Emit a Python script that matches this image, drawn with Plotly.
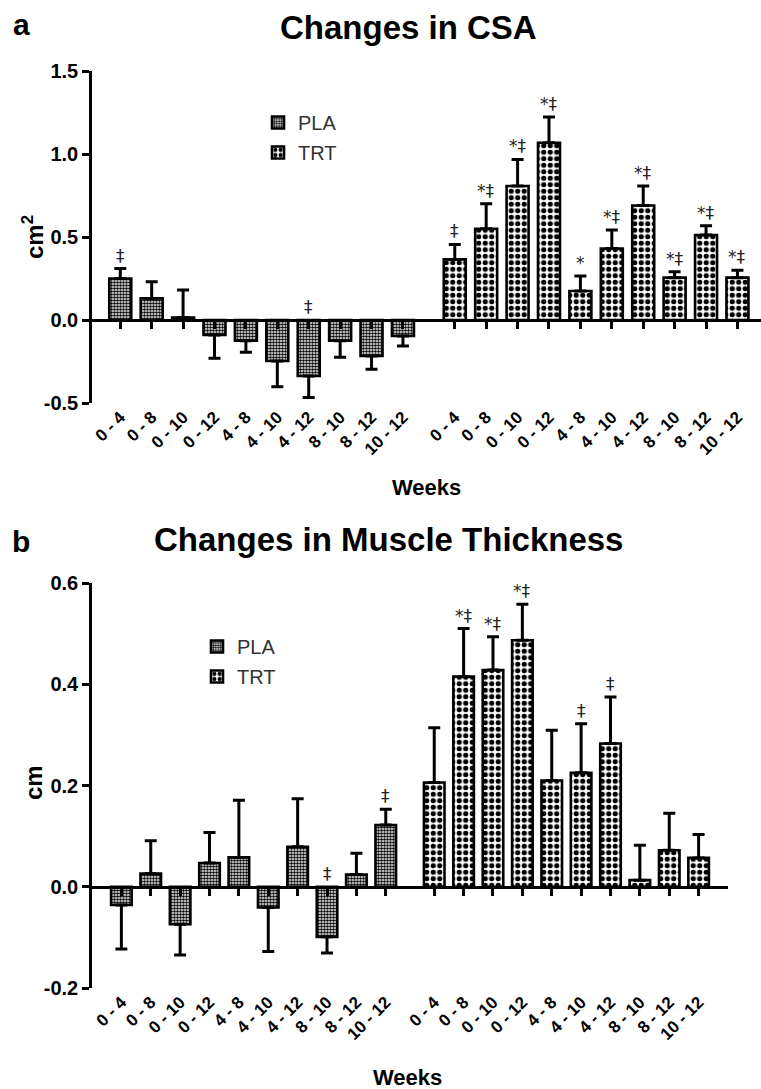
import plotly.graph_objects as go

W, H = 761, 1089

weeks = ["0 - 4", "0 - 8", "0 - 10", "0 - 12", "4 - 8", "4 - 10", "4 - 12", "8 - 10", "8 - 12", "10 - 12"]

# Panel a: Changes in CSA (cm^2)
csa_pla = [0.25, 0.13, 0.015, -0.09, -0.125, -0.247, -0.337, -0.125, -0.217, -0.096]
csa_pla_err = [0.06, 0.10, 0.165, 0.14, 0.07, 0.155, 0.13, 0.10, 0.08, 0.06]
csa_trt = [0.365, 0.55, 0.807, 1.068, 0.175, 0.43, 0.69, 0.255, 0.512, 0.255]
csa_trt_err = [0.09, 0.15, 0.16, 0.155, 0.09, 0.112, 0.117, 0.035, 0.056, 0.045]
csa_pla_sig = ["‡", "", "", "", "", "", "‡", "", "", ""]
csa_trt_sig = ["‡", "*‡", "*‡", "*‡", "*", "*‡", "*‡", "*‡", "*‡", "*‡"]

# Panel b: Changes in Muscle Thickness (cm)
mt_pla = [-0.036, 0.026, -0.074, 0.047, 0.058, -0.041, 0.079, -0.099, 0.024, 0.122]
mt_pla_err = [0.087, 0.065, 0.061, 0.060, 0.113, 0.087, 0.095, 0.032, 0.042, 0.031]
mt_trt = [0.206, 0.415, 0.428, 0.487, 0.21, 0.225, 0.283, 0.013, 0.072, 0.057]
mt_trt_err = [0.108, 0.095, 0.066, 0.071, 0.099, 0.097, 0.092, 0.069, 0.073, 0.046]
mt_pla_sig = ["", "", "", "", "", "", "", "‡", "", "‡"]
mt_trt_sig = ["", "*‡", "*‡", "*‡", "", "‡", "‡", "", "", ""]

GAP = 1.65
pla_x = [i for i in range(len(weeks))]
trt_x = [i + len(weeks) + GAP - 1 for i in range(len(weeks))]
all_x = pla_x + trt_x
all_lbl = weeks + weeks

FONT = "Liberation Sans, Arial, sans-serif"

pla_pattern = dict(shape=".", size=3.0, solidity=0.6, fgcolor="black", bgcolor="white", fillmode="replace")
trt_pattern = dict(shape=".", size=6.5, solidity=0.5, fgcolor="black", bgcolor="white", fillmode="replace")


def err_dict(vals, errs):
    up = [e if v >= 0 else 0 for v, e in zip(vals, errs)]
    dn = [e if v < 0 else 0 for v, e in zip(vals, errs)]
    return dict(type="data", symmetric=False, array=up, arrayminus=dn,
                color="black", thickness=3, width=6)


fig = go.Figure()

panels = [
    dict(pla=csa_pla, pe=csa_pla_err, trt=csa_trt, te=csa_trt_err, ps=csa_pla_sig, ts=csa_trt_sig,
         xa="x", ya="y", legend="legend"),
    dict(pla=mt_pla, pe=mt_pla_err, trt=mt_trt, te=mt_trt_err, ps=mt_pla_sig, ts=mt_trt_sig,
         xa="x3", ya="y2", legend="legend2"),
]

annotations = []
for p in panels:
    fig.add_trace(go.Bar(x=pla_x, y=p["pla"], name="PLA", width=0.7,
                         marker=dict(color="white", pattern=pla_pattern, line=dict(color="black", width=2.6)),
                         error_y=err_dict(p["pla"], p["pe"]), xaxis=p["xa"], yaxis=p["ya"],
                         legend=p["legend"], legendgroup="pla"))
    fig.add_trace(go.Bar(x=trt_x, y=p["trt"], name="TRT", width=0.7,
                         marker=dict(color="white", pattern=trt_pattern, line=dict(color="black", width=2.6)),
                         error_y=err_dict(p["trt"], p["te"]), xaxis=p["xa"], yaxis=p["ya"],
                         legend=p["legend"], legendgroup="trt"))
    for xs, vals, errs, sigs in [(pla_x, p["pla"], p["pe"], p["ps"]), (trt_x, p["trt"], p["te"], p["ts"])]:
        for xv, v, e, s in zip(xs, vals, errs, sigs):
            if not s:
                continue
            annotations.append(dict(x=xv, y=(v + e) if v >= 0 else 0, xref=p["xa"], yref=p["ya"],
                                    text=s, showarrow=False, xanchor="center", yanchor="bottom", yshift=1,
                                    font=dict(family="DejaVu Sans, sans-serif", size=17, color="#222")))


def px_x(v):
    return v / W


def px_y(v):
    return 1 - v / H


# geometry
top_dom_x = [92 / W, 1.0]
top_dom_y = [px_y(403), px_y(71)]
top_rng_y = [-0.5, 1.5]
top_rng_x = [-0.9, 20.4]
bot_dom_x = [92 / W, 728 / W]
bot_dom_y = [px_y(988), px_y(583)]
bot_rng_y = [-0.2, 0.6]
bot_rng_x = [-1.0, 20.65]


def zero_pos(dom, rng):
    return dom[0] + (0 - rng[0]) / (rng[1] - rng[0]) * (dom[1] - dom[0])


yax = dict(showline=True, linewidth=2.6, linecolor="black", ticks="outside", ticklen=7, tickwidth=2.6,
           tickcolor="black", showgrid=False, zeroline=False, automargin=False,
           tickfont=dict(family=FONT, size=20, color="black", weight="bold"))
xlab = dict(showline=False, ticks="", showgrid=False, zeroline=False, tickangle=-45, automargin=False,
            tickvals=all_x, ticktext=all_lbl, ticklen=4,
            tickfont=dict(family=FONT, size=17, color="black", weight="bold"))
xzero = dict(showline=True, linewidth=2.6, linecolor="black", ticks="outside", ticklen=7, tickwidth=2.6,
             tickcolor="black", showgrid=False, zeroline=False, tickvals=all_x, showticklabels=False,
             side="bottom", anchor="free", automargin=False)

fig.update_layout(
    width=W, height=H, margin=dict(l=0, r=0, t=0, b=0, autoexpand=False),
    paper_bgcolor="white", plot_bgcolor="white",
    barmode="overlay", showlegend=True,
    xaxis=dict(domain=top_dom_x, range=top_rng_x, anchor="y", **xlab),
    xaxis2=dict(domain=top_dom_x, range=top_rng_x, overlaying="x",
                position=zero_pos(top_dom_y, top_rng_y), **xzero),
    yaxis=dict(domain=top_dom_y, range=top_rng_y, tickvals=[-0.5, 0, 0.5, 1.0, 1.5],
               ticktext=["-0.5", "0.0", "0.5", "1.0", "1.5"], anchor="x", **yax),
    xaxis3=dict(domain=bot_dom_x, range=bot_rng_x, anchor="y2", **xlab),
    xaxis4=dict(domain=bot_dom_x, range=bot_rng_x, overlaying="x3",
                position=zero_pos(bot_dom_y, bot_rng_y), **xzero),
    yaxis2=dict(domain=bot_dom_y, range=bot_rng_y, tickvals=[-0.2, 0, 0.2, 0.4, 0.6],
                ticktext=["-0.2", "0.0", "0.2", "0.4", "0.6"], anchor="x3", **yax),
    legend=dict(x=px_x(258), y=px_y(103), xanchor="left", yanchor="top", bgcolor="rgba(0,0,0,0)",
                font=dict(family=FONT, size=20, color="#333"), tracegroupgap=1, traceorder="grouped"),
    legend2=dict(x=px_x(197), y=px_y(627), xanchor="left", yanchor="top", bgcolor="rgba(0,0,0,0)",
                 font=dict(family=FONT, size=20, color="#333"), tracegroupgap=1, traceorder="grouped"),
)

# invisible traces so the zero-line axes render
fig.add_trace(go.Scatter(x=[0], y=[0], xaxis="x2", yaxis="y", mode="markers", marker=dict(opacity=0),
                         showlegend=False, hoverinfo="skip"))
fig.add_trace(go.Scatter(x=[0], y=[0], xaxis="x4", yaxis="y2", mode="markers", marker=dict(opacity=0),
                         showlegend=False, hoverinfo="skip"))

bold = dict(family=FONT, color="black", weight="bold")
cm = dict(xref="paper", yref="paper", showarrow=False, xanchor="center", yanchor="middle")
annotations += [
    dict(x=px_x(408), y=px_y(27), text="Changes in CSA", font=dict(size=33, **bold), **cm),
    dict(x=px_x(389), y=px_y(539), text="Changes in Muscle Thickness", font=dict(size=33, **bold), **cm),
    dict(x=px_x(21), y=px_y(24), text="a", font=dict(size=30, **bold), **cm),
    dict(x=px_x(21), y=px_y(541), text="b", font=dict(size=30, **bold), **cm),
    dict(x=px_x(33), y=px_y(237), text="cm<sup>2</sup>", textangle=-90, font=dict(size=24, **bold), **cm),
    dict(x=px_x(33), y=px_y(783), text="cm", textangle=-90, font=dict(size=24, **bold), **cm),
    dict(x=px_x(426), y=px_y(488), text="Weeks", font=dict(size=22, **bold), **cm),
    dict(x=px_x(407), y=px_y(1077), text="Weeks", font=dict(size=22, **bold), **cm),
]
fig.update_layout(annotations=annotations)

fig.write_html("out.html", config={"displayModeBar": False},
               post_script="document.body.style.margin='0';document.body.style.padding='0';")
